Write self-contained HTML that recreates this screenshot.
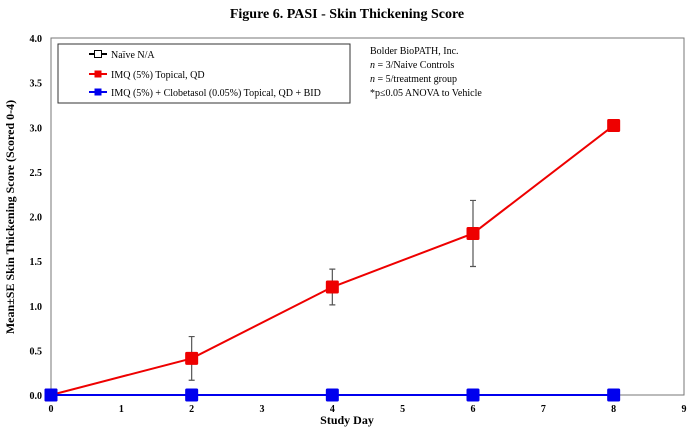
<!DOCTYPE html>
<html><head><meta charset="utf-8"><style>
body{margin:0;background:#fff;}
svg{display:block;font-family:"Liberation Serif",serif;}
</style></head><body>
<svg id="chart" width="694" height="428">
<text x="347" y="18" text-anchor="middle" font-size="14" font-weight="bold">Figure 6. PASI - Skin Thickening Score</text>
<rect x="51" y="38" width="633" height="357" fill="none" stroke="#777" stroke-width="1"/>
<g id="yticks"></g><g id="xticks"></g>
<text x="347" y="424" text-anchor="middle" font-size="12" font-weight="bold">Study Day</text>
<text transform="translate(14,217) rotate(-90)" text-anchor="middle" font-size="12" font-weight="bold">Mean±SE Skin Thickening Score (Scored 0-4)</text>
<g id="series"></g>
<g>
<rect x="58" y="44" width="292" height="59" fill="#fff" stroke="#333" stroke-width="1"/>
<line x1="89" y1="54" x2="107" y2="54" stroke="#000" stroke-width="2"/><rect x="94.5" y="50.5" width="7" height="7" fill="#fff" stroke="#000"/>
<text x="111" y="58" font-size="10">Naïve N/A</text>
<line x1="89" y1="74" x2="107" y2="74" stroke="#e00" stroke-width="2"/><rect x="94.5" y="70.5" width="7" height="7" fill="#e00"/>
<text x="111" y="78" font-size="10">IMQ (5%) Topical, QD</text>
<line x1="89" y1="92" x2="107" y2="92" stroke="#00e" stroke-width="2"/><rect x="94.5" y="88.5" width="7" height="7" fill="#00e"/>
<text x="111" y="96" font-size="10">IMQ (5%) + Clobetasol (0.05%) Topical, QD + BID</text>
</g>
<g font-size="10">
<text x="370" y="54">Bolder BioPATH, Inc.</text>
<text x="370" y="68"><tspan font-style="italic">n</tspan> = 3/Naive Controls</text>
<text x="370" y="82"><tspan font-style="italic">n</tspan> = 5/treatment group</text>
<text x="370" y="96">*p≤0.05 ANOVA to Vehicle</text>
</g>
</svg>
<script>
const days=[0,2,4,6,8];
const imqValues=[0,0.41,1.21,1.81,3.02];
const imqErrors=[0,0.245,0.2,0.37,0];
const clobValues=[0,0,0,0,0];
const yTickLabels=["0.0","0.5","1.0","1.5","2.0","2.5","3.0","3.5","4.0"];
const xTickLabels=["0","1","2","3","4","5","6","7","8","9"];
const NS="http://www.w3.org/2000/svg";
const xs=d=>51+d*(633/9), ys=v=>395-v*(357/4);
function mk(p,tag,at){const e=document.createElementNS(NS,tag);for(const k in at)e.setAttribute(k,at[k]);p.appendChild(e);return e;}
const yt=document.getElementById('yticks');
yTickLabels.forEach(l=>{const t=mk(yt,'text',{x:42,y:ys(+l)+4,'text-anchor':'end','font-size':10,'font-weight':'bold'});t.textContent=l;

});
const xt=document.getElementById('xticks');
xTickLabels.forEach(l=>{const t=mk(xt,'text',{x:xs(+l),y:412,'text-anchor':'middle','font-size':10,'font-weight':'bold'});t.textContent=l;

});
const s=document.getElementById('series');
function series(vals,color,name,errs){
 const g=mk(s,'g',{});
 
 
 if(errs)days.forEach((d,i)=>{if(errs[i]>0){const x=xs(d),a=ys(vals[i]+errs[i]),b=ys(vals[i]-errs[i]);
  mk(g,'path',{d:`M${x},${a}V${b}M${x-3},${a}H${x+3}M${x-3},${b}H${x+3}`,stroke:'#555','stroke-width':1.2,fill:'none'});}});
 const pl=mk(g,'polyline',{points:days.map((d,i)=>xs(d)+','+ys(vals[i])).join(' '),fill:'none',stroke:color,'stroke-width':2});
 
 
 days.forEach((d,i)=>{const r=mk(g,'rect',{x:xs(d)-6.5,y:ys(vals[i])-6.5,width:13,height:13,rx:1.5,fill:color});
  
  });
}
series(imqValues,'#e00','imq-series',imqErrors);
series(clobValues,'#00e','clobetasol-series',null);
</script>
</body></html>
